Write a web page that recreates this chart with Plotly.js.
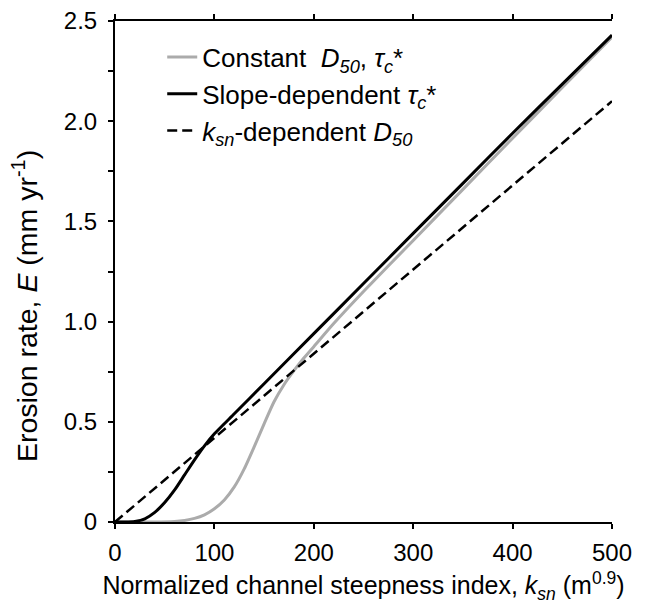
<!DOCTYPE html>
<html>
<head>
<meta charset="utf-8">
<script src="https://cdn.plot.ly/plotly-3.0.1.min.js"></script>
<style>
  html, body { margin: 0; padding: 0; background: #fff; }
  #chart { width: 645px; height: 611px; }
</style>
</head>
<body>
<div id="chart"></div>
<script>
// Normalized channel steepness index k_sn (m^0.9) and erosion rate E (mm/yr)
const ksnConstant = [0, 20, 40, 60, 70, 80, 90, 100, 110, 120, 130, 140, 150, 160, 170, 180, 190, 200, 220, 250, 300, 350, 400, 450, 500];
const erosionConstant = [0, 0, 0, 0.003, 0.008, 0.018, 0.036, 0.066, 0.11, 0.175, 0.265, 0.375, 0.49, 0.6, 0.685, 0.755, 0.818, 0.875, 0.99, 1.15, 1.405, 1.66, 1.915, 2.168, 2.42];

const ksnSlope = [0, 10, 20, 30, 40, 50, 60, 70, 80, 90, 100, 120, 150, 200, 250, 300, 350, 400, 450, 500];
const erosionSlope = [0, 0, 0.003, 0.016, 0.048, 0.097, 0.16, 0.235, 0.31, 0.38, 0.44, 0.54, 0.69, 0.94, 1.19, 1.44, 1.69, 1.94, 2.185, 2.43];

const ksnD50 = [0, 100, 200, 300, 400, 500];
const erosionD50 = [0, 0.42, 0.84, 1.26, 1.68, 2.1];

const xTickVals = [0, 100, 200, 300, 400, 500];
const xTickText = ["0", "100", "200", "300", "400", "500"];
const yTickVals = [0, 0.5, 1.0, 1.5, 2.0, 2.5];
const yTickText = ["0", "0.5", "1.0", "1.5", "2.0", "2.5"];

const seriesNames = [
  "Constant  <i>D</i><sub><i>50</i></sub>, <i>τ</i><sub><i>c</i></sub>*",
  "Slope-dependent <i>τ</i><sub><i>c</i></sub>*",
  "<i>k</i><sub><i>sn</i></sub>-dependent <i>D</i><sub><i>50</i></sub>"
];
const xTitle = "Normalized channel steepness index, <i>k</i><sub><i>sn</i></sub> (m<sup>0.9</sup>)";
const yTitle = "Erosion rate, <i>E</i> (mm yr<sup>-1</sup>)";

const FONT = "Liberation Sans, Arial, Helvetica, sans-serif";

const traces = [
  {
    x: ksnConstant, y: erosionConstant, name: seriesNames[0],
    type: "scatter", mode: "lines", line: { color: "#ababab", width: 3, shape: "spline", smoothing: 0.6 }
  },
  {
    x: ksnSlope, y: erosionSlope, name: seriesNames[1],
    type: "scatter", mode: "lines", line: { color: "#000000", width: 3, shape: "spline", smoothing: 0.6 }
  },
  {
    x: ksnD50, y: erosionD50, name: seriesNames[2],
    type: "scatter", mode: "lines", line: { color: "#000000", width: 2.5, dash: "10px,5px" }
  }
];

const layout = {
  width: 645, height: 611,
  margin: { l: 115, r: 33, t: 21, b: 89 },
  paper_bgcolor: "#ffffff", plot_bgcolor: "#ffffff",
  font: { family: FONT, size: 24, color: "#000" },
  showlegend: true,
  legend: {
    x: 0.095, y: 0.975, xanchor: "left", yanchor: "top",
    bgcolor: "rgba(0,0,0,0)", font: { family: FONT, size: 26, color: "#000" },
    tracegroupgap: 0
  },
  xaxis: {
    range: [0, 500], tickvals: xTickVals, ticktext: xTickText,
    showline: true, linecolor: "#000", linewidth: 2, mirror: "ticks",
    ticks: "outside", ticklen: 5, tickwidth: 2, tickcolor: "#000",
    showgrid: false, zeroline: false,
    tickfont: { family: FONT, size: 24 },
    ticklabelstandoff: 3,
    title: { text: xTitle, font: { family: FONT, size: 25 }, standoff: 12 }
  },
  yaxis: {
    range: [0, 2.5], tickvals: yTickVals, ticktext: yTickText,
    showline: true, linecolor: "#000", linewidth: 2,
    ticks: "outside", ticklen: 5, tickwidth: 2, tickcolor: "#000",
    minor: { dtick: 0.25, tick0: 0, ticks: "outside", ticklen: 5, tickwidth: 2, tickcolor: "#000", showgrid: false },
    showgrid: false, zeroline: false,
    tickfont: { family: FONT, size: 24 },
    ticklabelstandoff: 6
  },
  annotations: [
    {
      text: yTitle, xref: "paper", yref: "paper",
      x: -0.182, y: 0.43, xanchor: "center", yanchor: "middle",
      textangle: -90, showarrow: false,
      font: { family: FONT, size: 28.5, color: "#000" }
    }
  ]
};

Plotly.newPlot("chart", traces, layout, { displayModeBar: false, staticPlot: true });
</script>
</body>
</html>
